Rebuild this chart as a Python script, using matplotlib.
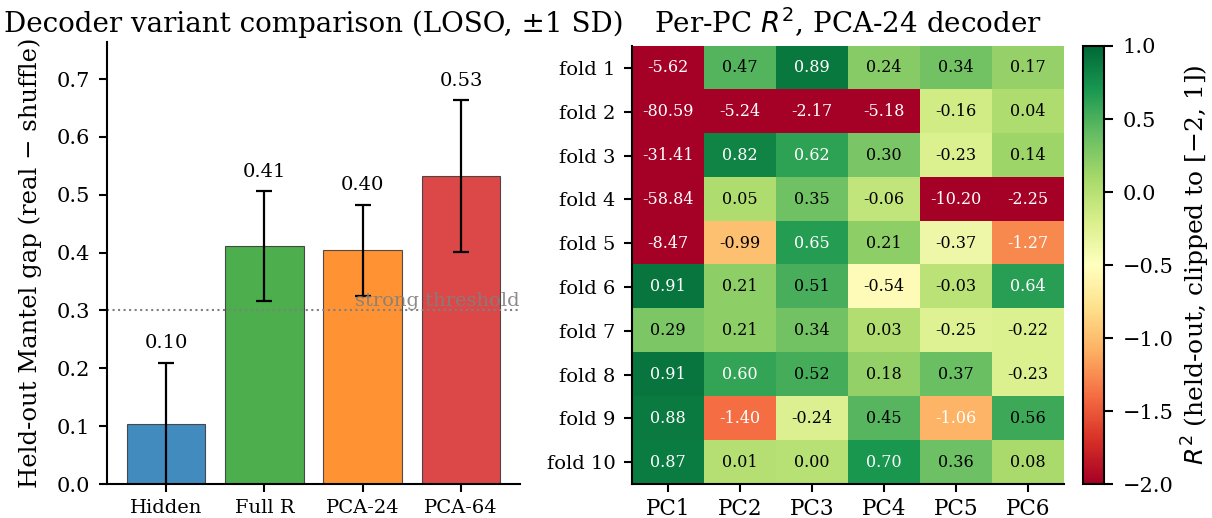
import numpy as np
import matplotlib
matplotlib.use('Agg')
import matplotlib.pyplot as plt

plt.rcParams['font.family'] = 'DejaVu Serif'

# bar panel data
variants = ['Hidden', 'Full R', 'PCA-24', 'PCA-64']
gap_mean = [0.103, 0.411, 0.404, 0.532]
gap_sd = [0.107, 0.095, 0.079, 0.131]
bar_colors = ['tab:blue', 'tab:green', 'tab:orange', 'tab:red']
threshold = 0.3

# heatmap data
folds = ['fold %d' % i for i in range(1, 11)]
pcs = ['PC1', 'PC2', 'PC3', 'PC4', 'PC5', 'PC6']
r2 = np.array([
    [-5.62, 0.47, 0.89, 0.24, 0.34, 0.17],
    [-80.59, -5.24, -2.17, -5.18, -0.16, 0.04],
    [-31.41, 0.82, 0.62, 0.30, -0.23, 0.14],
    [-58.84, 0.05, 0.35, -0.06, -10.20, -2.25],
    [-8.47, -0.99, 0.65, 0.21, -0.37, -1.27],
    [0.91, 0.21, 0.51, -0.54, -0.03, 0.64],
    [0.29, 0.21, 0.34, 0.03, -0.25, -0.22],
    [0.91, 0.60, 0.52, 0.18, 0.37, -0.23],
    [0.88, -1.40, -0.24, 0.45, -1.06, 0.56],
    [0.87, 0.01, 0.00, 0.70, 0.36, 0.08],
])

fig = plt.figure(figsize=(12.12, 5.18), dpi=100)
ax1 = fig.add_axes([0.0883, 0.0656, 0.3408, 0.8533])
ax2 = fig.add_axes([0.5215, 0.0656, 0.3564, 0.8456])
cax = fig.add_axes([0.8936, 0.0656, 0.0173, 0.8456])

# left: bars
x = np.arange(len(variants))
ax1.bar(x, gap_mean, width=0.8, yerr=gap_sd, color=bar_colors, alpha=0.85,
        edgecolor='#333333', linewidth=0.8, capsize=6,
        error_kw=dict(elinewidth=1.6, capthick=1.6, ecolor='black'))
for xi, m, s in zip(x, gap_mean, gap_sd):
    ax1.text(xi, m + s + 0.018, '%.2f' % m, ha='center', va='bottom', fontsize=14)
ax1.axhline(threshold, color='gray', linestyle=':', linewidth=1.5)
ax1.set_xlim(-0.6, 3.6)
ax1.set_ylim(0, 0.764)
ax1.text(3.6, threshold, 'strong threshold', ha='right', va='bottom',
         color='gray', alpha=0.9, fontsize=14)
ax1.set_xticks(x)
ax1.set_xticklabels(variants, fontsize=14)
ax1.tick_params(axis='y', labelsize=15)
ax1.set_ylabel('Held-out Mantel gap (real \u2212 shuffle)', fontsize=17.5, labelpad=10)
ax1.set_title('Decoder variant comparison (LOSO, \u00b11 SD)', fontsize=20, pad=7)
ax1.spines['top'].set_visible(False)
ax1.spines['right'].set_visible(False)
ax1.spines['left'].set_linewidth(1.5)
ax1.spines['bottom'].set_linewidth(1.5)
ax1.tick_params(width=1.5, length=5.5, pad=7)
ax1.tick_params(axis='x', pad=5)

# right: heatmap
clipped = np.clip(r2, -2, 1)
im = ax2.imshow(clipped, cmap='RdYlGn', vmin=-2, vmax=1, aspect='auto')
for i in range(r2.shape[0]):
    for j in range(r2.shape[1]):
        c = clipped[i, j]
        col = 'white' if (c > 0.58 or c < -1.0) else 'black'
        ax2.text(j, i, '%.2f' % r2[i, j], ha='center', va='center',
                 color=col, fontsize=11.5)
ax2.set_xticks(range(len(pcs)))
ax2.set_xticklabels(pcs, fontsize=15.5)
ax2.set_yticks(range(len(folds)))
ax2.set_yticklabels(folds, fontsize=14)
ax2.set_title('Per-PC $R^2$, PCA-24 decoder', fontsize=20, pad=9)
ax2.spines['top'].set_visible(False)
ax2.spines['right'].set_visible(False)
ax2.spines['left'].set_linewidth(1.5)
ax2.spines['bottom'].set_linewidth(1.5)
ax2.tick_params(width=1.5, length=6, pad=6)
ax2.tick_params(axis='x', pad=4)

cb = fig.colorbar(im, cax=cax)
cb.ax.tick_params(labelsize=15, width=1.5, length=6.5, pad=7)
cb.outline.set_linewidth(1.5)
cb.set_label('$R^2$ (held-out, clipped to [\u22122, 1])', fontsize=18)

fig.savefig('out.png', dpi=100)
